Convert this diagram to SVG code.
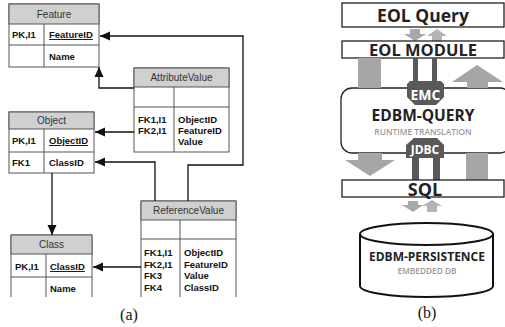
<svg xmlns="http://www.w3.org/2000/svg" width="505" height="327" viewBox="0 0 505 327">
<defs>
<style>
.tb{fill:#fff;stroke:#555;stroke-width:1}
.hd{fill:#d0d0d0;stroke:#555;stroke-width:1}
.ln{stroke:#555;stroke-width:1;fill:none}
.ht{font-family:"Liberation Sans",Arial,sans-serif;font-size:10px;fill:#333;text-anchor:middle}
.ft{font-family:"Liberation Sans",Arial,sans-serif;font-size:9.5px;font-weight:bold;fill:#111}
.u{text-decoration:underline}
.cn{stroke:#111;stroke-width:1.3;fill:none;marker-end:url(#ah)}
.bx{fill:#fff;stroke:#222;stroke-width:1.3}
.big{font-family:"Open Sans","DejaVu Sans",sans-serif;font-weight:bold;fill:#222;text-anchor:middle}
.sub{font-family:"Open Sans","DejaVu Sans",sans-serif;font-weight:600;fill:#999;text-anchor:middle}
.g1{fill:#a6a6a6}
.g2{fill:#595959}
.wt{font-family:"Open Sans","DejaVu Sans",sans-serif;font-weight:bold;fill:#fff;text-anchor:middle}
.cap{font-family:"Liberation Serif","Times New Roman",serif;font-size:16px;fill:#111;text-anchor:middle}
</style>
<marker id="ah" markerUnits="userSpaceOnUse" markerWidth="10" markerHeight="10" viewBox="0 0 10 10" refX="10" refY="5" orient="auto">
<path d="M0,0.5 L10,5 L0,9.5 Z" fill="#111"/>
</marker>
</defs>

<g id="Feature">
<rect class="tb" x="9" y="4" width="90" height="63"/>
<rect class="hd" x="9" y="4" width="90" height="20"/>
<path class="ln" d="M9,45 H99 M44,24 V67"/>
<text class="ht" x="54" y="18">Feature</text>
<text class="ft" x="12" y="38">PK,I1</text>
<text class="ft u" x="49" y="38">FeatureID</text>
<text class="ft" x="49" y="60">Name</text>
</g>

<g id="AttributeValue">
<rect class="tb" x="134" y="68" width="95" height="84"/>
<rect class="hd" x="134" y="68" width="95" height="19"/>
<path class="ln" d="M134,107 H229 M174,87 V152"/>
<text class="ht" x="181.5" y="81">AttributeValue</text>
<text class="ft" x="138" y="123">FK1,I1</text>
<text class="ft" x="138" y="134">FK2,I1</text>
<text class="ft" x="178" y="123">ObjectID</text>
<text class="ft" x="178" y="134">FeatureID</text>
<text class="ft" x="178" y="145">Value</text>
</g>

<g id="Object">
<rect class="tb" x="9" y="112" width="85" height="61"/>
<rect class="hd" x="9" y="112" width="85" height="17"/>
<path class="ln" d="M9,152 H94 M44,129 V173"/>
<text class="ht" x="51.5" y="124">Object</text>
<text class="ft" x="12" y="144">PK,I1</text>
<text class="ft u" x="49" y="144">ObjectID</text>
<text class="ft" x="12" y="166">FK1</text>
<text class="ft" x="49" y="166">ClassID</text>
</g>

<g id="Class">
<path class="tb" d="M11,297 V235 H92 V297"/>
<rect class="hd" x="11" y="235" width="81" height="19"/>
<path class="ln" d="M11,277 H92 M46,254 V297"/>
<text class="ht" x="51.5" y="248">Class</text>
<text class="ft" x="15" y="270">PK,I1</text>
<text class="ft u" x="50" y="270">ClassID</text>
<text class="ft" x="50" y="292">Name</text>
</g>

<g id="ReferenceValue">
<path class="tb" d="M141,297 V201 H236 V297"/>
<rect class="hd" x="141" y="201" width="95" height="19"/>
<path class="ln" d="M141,239 H236 M180,220 V297"/>
<text class="ht" x="188.5" y="214">ReferenceValue</text>
<text class="ft" x="144" y="256">FK1,I1</text>
<text class="ft" x="144" y="267.5">FK2,I1</text>
<text class="ft" x="144" y="279">FK3</text>
<text class="ft" x="144" y="290.5">FK4</text>
<text class="ft" x="184" y="256">ObjectID</text>
<text class="ft" x="184" y="267.5">FeatureID</text>
<text class="ft" x="184" y="279">Value</text>
<text class="ft" x="184" y="290.5">ClassID</text>
</g>

<g id="connectors">
<path class="cn" d="M134,88 H99 V67"/>
<path class="cn" d="M134,132 H95"/>
<path class="cn" d="M155,201 V162 H95"/>
<path class="cn" d="M188,201 V165 H243 V36 H100"/>
<path class="cn" d="M52,173 V235"/>
<path class="cn" d="M141,267 H93"/>
</g>

<text class="cap" x="129" y="320">(a)</text>

<g id="EOLQuery">
<rect class="bx" x="342" y="3" width="162" height="24"/>
<text class="big" x="423" y="22" font-size="17.5">EOL Query</text>
</g>
<g id="arrows-top">
<path fill="#a8a8a8" d="M410,29 H420 V34 H426 L415,41 L404,34 H410 Z"/>
<path fill="#b4b4b4" d="M437,29 L447,36 H442 V41 H432 V36 H427 Z"/>
</g>
<g id="EOLModule">
<rect class="bx" x="342" y="41" width="162" height="17"/>
<text class="big" x="423" y="56" font-size="16.5">EOL MODULE</text>
</g>

<g id="EDBMQuery">
<rect class="bx" x="341" y="88" width="170" height="65" rx="11"/>
<text class="big" x="423" y="121" font-size="15.5">EDBM-QUERY</text>
<text class="sub" x="423" y="135" font-size="8.4">RUNTIME TRANSLATION</text>
</g>

<g id="flows">
<rect class="g1" x="358" y="58" width="23" height="30"/>
<path class="g1" d="M477,65 L503,82 H488 V88 H467 V82 H452 Z"/>
<path class="g1" d="M358,153 H382 V160 H395 L370,176 L345,160 H358 Z"/>
<rect class="g1" x="466" y="153" width="22" height="27"/>
</g>

<g id="EMC">
<path class="g2" d="M413,58 H418 V81 H432 V58 H437 V81 H441 L444,84 V97 L436,105 H415 L407,97 V84 L410,81 H413 Z"/>
<text class="wt" x="425.5" y="100" font-size="14">EMC</text>
</g>

<g id="JDBC">
<path class="g2" d="M414,138 H437 L444,145 V158 H440 V180 H433 V158 H419 V180 H412 V158 H406 V145 Z"/>
<text class="wt" x="425" y="154" font-size="12">JDBC</text>
</g>

<g id="SQL">
<rect class="bx" x="342" y="180" width="162" height="17"/>
<text class="big" x="425" y="196" font-size="18">SQL</text>
</g>
<g id="arrows-bottom">
<path fill="#a8a8a8" d="M408,201 H418 V205 H423 L413,212 L402,205 H408 Z"/>
<path fill="#b4b4b4" d="M432,200 L442,206 H437 V212 H427 V206 H422 Z"/>
</g>

<g id="EDBMPersistence">
<path fill="#fff" stroke="#111" stroke-width="2" d="M360,234 A66.5,11 0 0 1 493,234 V286 A66.5,11 0 0 1 360,286 Z"/>
<path fill="none" stroke="#111" stroke-width="2" d="M360,234 A66.5,11 0 0 0 493,234"/>
<text class="big" x="427" y="261" font-size="12">EDBM-PERSISTENCE</text>
<text class="sub" x="427" y="274" font-size="8.3">EMBEDDED DB</text>
</g>

<text class="cap" x="427" y="318">(b)</text>
</svg>
